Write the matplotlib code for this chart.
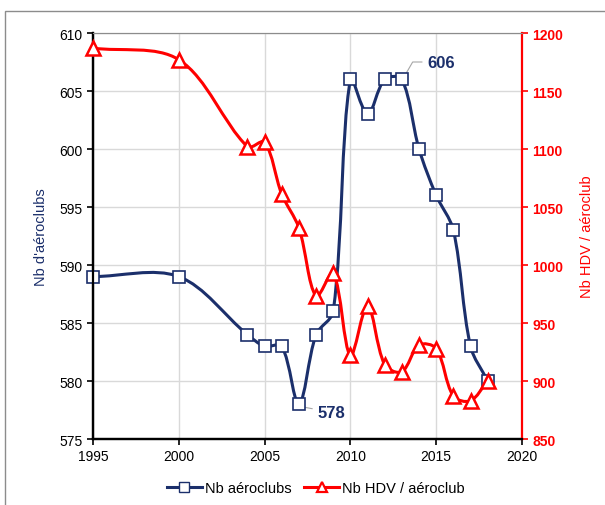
import matplotlib.pyplot as plt
from matplotlib.path import Path
from matplotlib.patches import PathPatch, Rectangle
from matplotlib.lines import Line2D
import numpy as np

plt.rcParams['font.family'] = ['Liberation Sans', 'DejaVu Sans']

years = [1995, 2000, 2004, 2005, 2006, 2007, 2008, 2009, 2010, 2011, 2012, 2013, 2014, 2015, 2016, 2017, 2018]
nb_clubs = [589, 589, 584, 583, 583, 578, 584, 586, 606, 603, 606, 606, 600, 596, 593, 583, 580]
hdv_club = [1187, 1177, 1102, 1106, 1061, 1032, 973, 993, 922, 965, 914, 908, 931, 928, 887, 883, 900]

navy = '#1b2f6b'
red = '#ff0000'


#----------------------smooth line like excel (bezier in screen space)---------------------
def smooth_path(a, x, y, f=1.0 / 3):
    p = a.transData.transform(np.column_stack([x, y]))
    n = len(p)
    verts = [p[0]]
    codes = [Path.MOVETO]
    for i in range(n - 1):
        p0 = p[i - 1] if i > 0 else p[i]
        p1, p2 = p[i], p[i + 1]
        p3 = p[i + 2] if i + 2 < n else p[i + 1]
        l01 = np.hypot(*(p1 - p0))
        l12 = np.hypot(*(p2 - p1))
        l23 = np.hypot(*(p3 - p2))
        c1 = p1 + (p2 - p0) * f * l12 / (l01 + l12)
        c2 = p2 - (p3 - p1) * f * l12 / (l12 + l23)
        verts += [c1, c2, p2]
        codes += [Path.CURVE4] * 3
    verts = a.transData.inverted().transform(np.array(verts))
    return Path(verts, codes)
#-----------------------------------------------------------------------------------------


fig = plt.figure(figsize=(6.05, 5.06), dpi=100)
ax = fig.add_axes([0.1537, 0.1304, 0.7091, 0.8024])
ax2 = ax.twinx()

# frame around the chart
fig.patches.append(Rectangle((5 / 605, -0.1), 1.2, 1.1 - 12 / 506, transform=fig.transFigure,
                             fill=False, edgecolor='#8c8c8c', linewidth=1.0))

ax.set_xlim(1995, 2020)
ax.set_ylim(575, 610)
ax2.set_ylim(850, 1200)
ax.set_xticks(range(1995, 2021, 5))
ax.set_yticks(range(575, 611, 5))
ax2.set_yticks(range(850, 1201, 50))

ax.grid(True, color='#d9d9d9', linewidth=1.0)
ax.set_axisbelow(True)

ax.add_patch(PathPatch(smooth_path(ax, years, nb_clubs), fill=False, edgecolor=navy, lw=2.2, zorder=3))
ax.plot(years, nb_clubs, ls='none', marker='s', ms=9, mfc='white', mec=navy, mew=1.2, zorder=4,
        clip_on=False)

ax2.add_patch(PathPatch(smooth_path(ax2, years, hdv_club), fill=False, edgecolor=red, lw=2.2, zorder=3))
ax2.plot(years, hdv_club, ls='none', marker='^', ms=10, mfc='white', mec=red, mew=1.8, zorder=4,
         clip_on=False)

for a in (ax, ax2):
    a.spines['top'].set_color('#8c8c8c')
    a.spines['left'].set_color('black')
    a.spines['bottom'].set_color('black')
    a.spines['left'].set_linewidth(1.6)
    a.spines['bottom'].set_linewidth(1.6)
ax2.spines['right'].set_color(red)
ax2.spines['right'].set_linewidth(1.6)
ax.spines['right'].set_visible(False)

ax.tick_params(axis='both', direction='out', length=4, width=1.2, labelsize=10, colors='black')
ax2.tick_params(axis='y', direction='out', length=4, width=1.2, colors=red, labelsize=10)
for t in ax2.get_yticklabels():
    t.set_fontweight('bold')

ax.set_ylabel("Nb d'aéroclubs", color=navy, fontsize=10.5, labelpad=8)
ax2.set_ylabel('Nb HDV / aéroclub', color=red, fontsize=10.5, labelpad=12)

ax.annotate('606', xy=(2013.2, 606.4), xytext=(2014.5, 607.5), fontsize=12, fontweight='bold',
            color=navy, va='center', ha='left',
            arrowprops=dict(arrowstyle='-', color='#a6a6a6', lw=0.8, shrinkA=2, shrinkB=0,
                            connectionstyle='angle,angleA=0,angleB=60'))
ax.annotate('578', xy=(2007.1, 577.8), xytext=(2008.1, 577.3), fontsize=12, fontweight='bold',
            color=navy, va='center', ha='left',
            arrowprops=dict(arrowstyle='-', color='#a6a6a6', lw=0.8, shrinkA=2, shrinkB=0))

handles = [Line2D([], [], color=navy, lw=2.2, marker='s', ms=7, mfc='white', mec=navy),
           Line2D([], [], color=red, lw=2.2, marker='^', ms=7, mfc='white', mec=red, mew=1.6)]
fig.legend(handles, ['Nb aéroclubs', 'Nb HDV / aéroclub'], loc='center', bbox_to_anchor=(0.522, 0.034),
           ncol=2, frameon=False, fontsize=10.5, handlelength=2.4, handletextpad=0.2, columnspacing=0.9)

fig.savefig('out.png', dpi=100)
